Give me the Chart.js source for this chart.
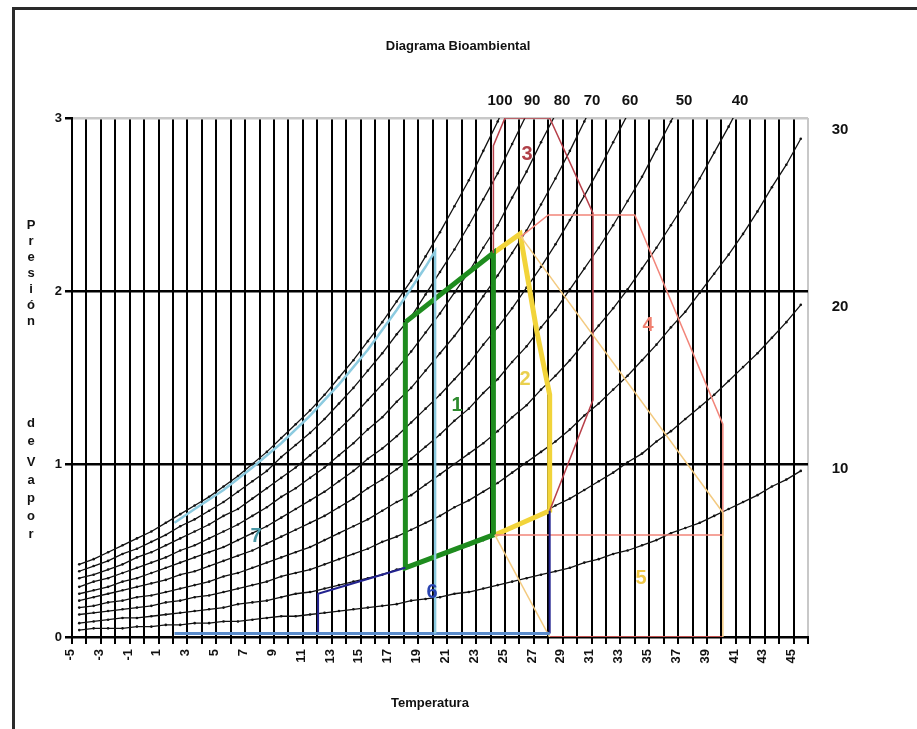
<!DOCTYPE html>
<html>
<head>
<meta charset="utf-8">
<title>Diagrama Bioambiental</title>
<script src="https://cdn.jsdelivr.net/npm/chart.js@4.4.1/dist/chart.umd.min.js"></script>
<style>
  html, body { margin: 0; padding: 0; background: #fff; }
  canvas { display: block; }
</style>
</head>
<body>
<canvas id="bioChart" width="917" height="729"></canvas>
<script>
// temperature categories (°C), one per vertical grid cell
const temps = [-5, -4, -3, -2, -1, 0, 1, 2, 3, 4, 5, 6, 7, 8, 9, 10, 11, 12, 13, 14, 15, 16, 17, 18, 19, 20,
  21, 22, 23, 24, 25, 26, 27, 28, 29, 30, 31, 32, 33, 34, 35, 36, 37, 38, 39, 40, 41, 42, 43, 44, 45];

// tick labels
const xLabels = [-5, -3, -1, 1, 3, 5, 7, 9, 11, 13, 15, 17, 19, 21, 23, 25, 27, 29, 31, 33, 35, 37, 39, 41, 43, 45];
const yLabels = [0, 1, 2, 3];

// relative humidity curves, vapour pressure read at each temperature (starting at -5)
const hr100 = [0.42, 0.45, 0.49, 0.53, 0.57, 0.61, 0.66, 0.71, 0.76, 0.81, 0.87, 0.93, 1.00, 1.07, 1.15, 1.23,
  1.31, 1.40, 1.50, 1.60, 1.71, 1.82, 1.94, 2.06, 2.20, 2.34, 2.49, 2.64, 2.81, 2.98, 3.17];
const hr90 = [0.38, 0.41, 0.44, 0.48, 0.51, 0.55, 0.59, 0.64, 0.68, 0.73, 0.78, 0.84, 0.90, 0.96, 1.04, 1.11,
  1.18, 1.26, 1.35, 1.44, 1.54, 1.64, 1.75, 1.85, 1.98, 2.11, 2.24, 2.38, 2.53, 2.68, 2.85, 3.02];
const hr80 = [0.34, 0.36, 0.39, 0.42, 0.46, 0.49, 0.53, 0.57, 0.61, 0.65, 0.70, 0.74, 0.80, 0.86, 0.92, 0.98,
  1.05, 1.12, 1.20, 1.28, 1.37, 1.46, 1.55, 1.65, 1.76, 1.87, 1.99, 2.11, 2.25, 2.38, 2.54, 2.69, 2.86, 3.02];
const hr70 = [0.29, 0.32, 0.34, 0.37, 0.40, 0.43, 0.46, 0.50, 0.53, 0.57, 0.61, 0.65, 0.70, 0.75, 0.81, 0.86,
  0.92, 0.98, 1.05, 1.12, 1.20, 1.27, 1.36, 1.44, 1.54, 1.64, 1.74, 1.85, 1.97, 2.09, 2.22, 2.35, 2.50, 2.65,
  2.81, 2.98, 3.15];
const hr60 = [0.25, 0.27, 0.29, 0.32, 0.34, 0.37, 0.40, 0.43, 0.46, 0.49, 0.52, 0.56, 0.60, 0.64, 0.69, 0.74,
  0.79, 0.84, 0.90, 0.96, 1.03, 1.09, 1.16, 1.24, 1.32, 1.40, 1.49, 1.58, 1.69, 1.79, 1.90, 2.02, 2.14, 2.27,
  2.41, 2.55, 2.70, 2.86, 3.02];
const hr50 = [0.21, 0.23, 0.25, 0.27, 0.29, 0.31, 0.33, 0.36, 0.38, 0.41, 0.44, 0.47, 0.50, 0.54, 0.58, 0.62,
  0.66, 0.70, 0.75, 0.80, 0.86, 0.91, 0.97, 1.03, 1.10, 1.17, 1.25, 1.32, 1.41, 1.49, 1.59, 1.68, 1.79, 1.89,
  2.01, 2.13, 2.25, 2.38, 2.52, 2.66, 2.82, 2.98, 3.14];
const hr40 = [0.17, 0.18, 0.20, 0.21, 0.23, 0.24, 0.26, 0.28, 0.30, 0.32, 0.35, 0.37, 0.40, 0.43, 0.46, 0.49,
  0.52, 0.56, 0.60, 0.64, 0.68, 0.73, 0.78, 0.82, 0.88, 0.94, 1.00, 1.06, 1.12, 1.19, 1.27, 1.34, 1.43, 1.51,
  1.60, 1.70, 1.80, 1.90, 2.01, 2.13, 2.25, 2.38, 2.51, 2.65, 2.80, 2.95, 3.11];
const hr30 = [0.13, 0.14, 0.15, 0.16, 0.17, 0.18, 0.20, 0.21, 0.23, 0.24, 0.26, 0.28, 0.30, 0.32, 0.35, 0.37,
  0.39, 0.42, 0.45, 0.48, 0.51, 0.55, 0.58, 0.62, 0.66, 0.70, 0.75, 0.79, 0.84, 0.89, 0.95, 1.01, 1.07, 1.13,
  1.20, 1.28, 1.35, 1.43, 1.51, 1.60, 1.69, 1.79, 1.88, 1.99, 2.10, 2.21, 2.33, 2.46, 2.60, 2.73, 2.88];
const hr20 = [0.08, 0.09, 0.10, 0.11, 0.11, 0.12, 0.13, 0.14, 0.15, 0.16, 0.17, 0.19, 0.20, 0.21, 0.23, 0.25,
  0.26, 0.28, 0.30, 0.32, 0.34, 0.36, 0.39, 0.41, 0.44, 0.47, 0.50, 0.53, 0.56, 0.60, 0.63, 0.67, 0.71, 0.76,
  0.80, 0.85, 0.90, 0.95, 1.01, 1.06, 1.13, 1.19, 1.26, 1.33, 1.40, 1.48, 1.56, 1.64, 1.73, 1.82, 1.92];
const hr10 = [0.04, 0.05, 0.05, 0.05, 0.06, 0.06, 0.07, 0.07, 0.08, 0.08, 0.09, 0.09, 0.10, 0.11, 0.12, 0.12,
  0.13, 0.14, 0.15, 0.16, 0.17, 0.18, 0.19, 0.21, 0.22, 0.23, 0.25, 0.26, 0.28, 0.30, 0.32, 0.34, 0.36, 0.38,
  0.40, 0.43, 0.45, 0.48, 0.50, 0.53, 0.56, 0.60, 0.63, 0.66, 0.70, 0.74, 0.78, 0.82, 0.87, 0.91, 0.96];

// bioclimatic zones (temperature, vapour pressure)
const zone1T = [17.6, 23.7, 23.7, 17.6, 17.6];
const zone1P = [1.82, 2.22, 0.59, 0.40, 1.82];
const zone2T = [23.7, 25.55, 26.7, 27.6, 27.6, 23.8];
const zone2P = [2.22, 2.33, 1.77, 1.40, 0.73, 0.59];
const zone3T = [23.7, 23.7, 24.5, 27.6, 30.6, 30.6, 27.6];
const zone3P = [2.22, 2.84, 3.00, 3.00, 2.45, 1.37, 0.73];
const zone4T = [25.55, 27.5, 33.5, 39.6, 39.6, 23.8];
const zone4P = [2.31, 2.44, 2.44, 1.23, 0.59, 0.59];
const zone5T = [25.55, 39.6, 39.6];
const zone5P = [2.32, 0.72, 0.00];
const zone5bT = [23.8, 27.6];
const zone5bP = [0.59, 0.00];
const baseRedT = [27.6, 39.6];
const baseRedP = [0.00, 0.00];
const zone6aT = [11.55, 11.55, 17.6];
const zone6aP = [0.02, 0.25, 0.40];
const zone6bT = [27.6, 27.6];
const zone6bP = [0.73, 0.02];
const baseBlueT = [1.6, 27.6];
const baseBlueP = [0.02, 0.02];
const zone7T = [1.6, 3, 5, 7, 9, 11, 13, 15, 17, 19, 19.66, 19.66];
const zone7P = [0.66, 0.74, 0.85, 0.98, 1.12, 1.28, 1.46, 1.66, 1.89, 2.14, 2.23, 0.02];

const FONT = '"Liberation Sans", Arial, sans-serif';

function pts(xs, ys) {
    return xs.map((t, i) => ({ x: t, y: ys[i] }));
}

function zoneSet(xs, ys, color, width) {
    return {
        data: pts(xs, ys),
        showLine: true,
        borderColor: color,
        borderWidth: width,
        pointRadius: 0,
        tension: 0,
        order: 0
    };
}

function curveSet(values) {
    return {
        data: pts(temps.slice(0, values.length), values),
        showLine: true,
        borderColor: '#111',
        borderWidth: 1.3,
        pointRadius: 1.3,
        pointBackgroundColor: '#111',
        pointBorderWidth: 0,
        tension: 0,
        order: 1
    };
}

// texts drawn round the plot
const decorPlugin = {
    id: 'decor',
    beforeDraw(chart) {
        let ctx = chart.ctx;
        ctx.save();
        ctx.fillStyle = '#fff';
        ctx.fillRect(0, 0, chart.width, chart.height);
        ctx.fillStyle = '#2a2a2a';
        ctx.fillRect(12, 7, chart.width - 12, 3);
        ctx.fillRect(12, 7, 3, chart.height - 7);
        ctx.restore();
    },
    afterDraw(chart) {
        let ctx = chart.ctx;
        let xs = chart.scales.x, ys = chart.scales.y;
        let area = chart.chartArea;
        ctx.save();
        ctx.fillStyle = '#111';
        ctx.textAlign = 'center';
        ctx.textBaseline = 'middle';

        ctx.font = 'bold 13px ' + FONT;
        ctx.fillText('Diagrama Bioambiental', 458, 46);
        ctx.fillText('Temperatura', 430, 703);

        // vertical axis title, one letter under the other
        'Presión'.split('').forEach((c, i) => ctx.fillText(c, 31, 225 + i * 16));
        'de'.split('').forEach((c, i) => ctx.fillText(c, 31, 423 + i * 18));
        'Vapor'.split('').forEach((c, i) => ctx.fillText(c, 31, 462 + i * 18));

        // humidity curve labels
        ctx.font = 'bold 15px ' + FONT;
        [['100', 24.16], ['90', 26.38], ['80', 28.46], ['70', 30.54], ['60', 33.17], ['50', 36.91], ['40', 40.79]]
            .forEach(([t, v]) => ctx.fillText(t, xs.getPixelForValue(v), area.top - 17));
        [['30', 2.93], ['20', 1.91], ['10', 0.97]]
            .forEach(([t, v]) => ctx.fillText(t, area.right + 32, ys.getPixelForValue(v)));

        // zone numbers
        ctx.font = 'bold 20px ' + FONT;
        [['1', 21.18, 1.34, '#2e8b2e'], ['2', 25.89, 1.49, '#ead04e'], ['3', 26.03, 2.79, '#b04048'],
         ['4', 34.42, 1.80, '#f08070'], ['5', 33.93, 0.34, '#f0c848'], ['6', 19.45, 0.26, '#2a44b0'],
         ['7', 7.25, 0.58, '#4a98a6']]
            .forEach(([t, x, y, c]) => {
                ctx.fillStyle = c;
                ctx.fillText(t, xs.getPixelForValue(x), ys.getPixelForValue(y));
            });
        ctx.restore();
    }
};

let ctx = document.getElementById('bioChart').getContext('2d');
let bioChart = new Chart(ctx, {
    type: 'scatter',
    data: {
        datasets: [
            zoneSet(zone7T, zone7P, '#8ccbe0', 2.5),
            zoneSet(baseBlueT, baseBlueP, '#5a8ccc', 3),
            zoneSet(zone6aT, zone6aP, '#23238f', 2),
            zoneSet(zone6bT, zone6bP, '#23238f', 2),
            zoneSet(zone5T, zone5P, '#f3ca80', 1.5),
            zoneSet(zone5bT, zone5bP, '#f3ca80', 1.5),
            zoneSet(baseRedT, baseRedP, '#c0504d', 2),
            zoneSet(zone4T, zone4P, '#f2857a', 1.5),
            zoneSet(zone3T, zone3P, '#b8404a', 1.5),
            zoneSet(zone1T, zone1P, '#1e8c1e', 5),
            zoneSet(zone2T, zone2P, '#f2d43a', 5),
            curveSet(hr100), curveSet(hr90), curveSet(hr80), curveSet(hr70), curveSet(hr60),
            curveSet(hr50), curveSet(hr40), curveSet(hr30), curveSet(hr20), curveSet(hr10)
        ]
    },
    options: {
        responsive: false,
        animation: false,
        devicePixelRatio: 1,
        layout: { padding: { top: 118, right: 109, left: 0, bottom: 0 } },
        plugins: {
            legend: { display: false },
            tooltip: { enabled: false }
        },
        scales: {
            x: {
                type: 'linear',
                min: -5.5,
                max: 45.5,
                afterBuildTicks: function(scale) {
                    let t = [];
                    for (let v = -5.5; v <= 45.5; v += 0.5) t.push({ value: v });
                    scale.ticks = t;
                },
                afterFit: function(scale) { scale.height = 92; },
                ticks: {
                    autoSkip: false,
                    minRotation: 90,
                    maxRotation: 90,
                    labelOffset: -9,
                    padding: 5,
                    color: '#111',
                    font: { family: FONT, size: 13, weight: 'bold' },
                    callback: (v) => xLabels.includes(v) ? String(v) : ''
                },
                grid: {
                    color: (c) => Number.isInteger(c.tick.value) ? 'rgba(0,0,0,0)' : (c.tick.value >= 45.5 ? '#c8c8c8' : '#000'),
                    tickColor: (c) => Number.isInteger(c.tick.value) ? 'rgba(0,0,0,0)' : '#000',
                    lineWidth: 2,
                    tickLength: 7
                },
                border: { color: '#000', width: 2 }
            },
            y: {
                min: 0,
                max: 3,
                afterBuildTicks: function(scale) {
                    scale.ticks = yLabels.map(v => ({ value: v }));
                },
                afterFit: function(scale) { scale.width = 72; },
                ticks: {
                    padding: 3,
                    color: '#111',
                    font: { family: FONT, size: 13, weight: 'bold' }
                },
                grid: {
                    color: (c) => c.tick.value === 3 ? '#c8c8c8' : '#000',
                    tickColor: '#000',
                    lineWidth: 2.5,
                    tickLength: 7
                },
                border: { color: '#000', width: 2 }
            }
        }
    },
    plugins: [decorPlugin]
});
</script>
</body>
</html>
